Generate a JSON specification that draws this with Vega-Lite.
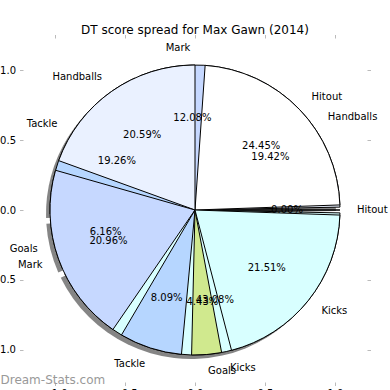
{
  "$schema": "https://vega.github.io/schema/vega-lite/v6.json",
  "width": 344,
  "height": 344,
  "autosize": {"type": "none"},
  "padding": {"left": 23, "top": 38, "right": 23, "bottom": 8},
  "background": "white",
  "title": {"text": "DT score spread for Max Gawn (2014)", "font": "DejaVu Sans", "fontSize": 12, "fontWeight": "normal", "color": "black", "anchor": "middle", "offset": -3},
  "config": {"view": {"stroke": null}, "font": "DejaVu Sans"},
  "datasets": {
    "pie1": [
      {"stat": "Hitout", "share": 0.2445, "i": 0},
      {"stat": "Handballs", "share": 0.2059, "i": 1},
      {"stat": "Mark", "share": 0.2096, "i": 2},
      {"stat": "Tackle", "share": 0.0809, "i": 3},
      {"stat": "Goals", "share": 0.0443, "i": 4},
      {"stat": "Kicks", "share": 0.2151, "i": 5}
    ],
    "pie2": [
      {"stat": "Hitout", "share": 0.0, "i": 0},
      {"stat": "Handballs", "share": 0.1942, "i": 1},
      {"stat": "Mark", "share": 0.1208, "i": 2},
      {"stat": "Tackle", "share": 0.1926, "i": 3},
      {"stat": "Goals", "share": 0.0616, "i": 4},
      {"stat": "Kicks", "share": 0.4308, "i": 5}
    ]
  },
  "layer": [
    {
      "data": {"name": "pie2"},
      "mark": {"type": "arc", "radius": 145, "padAngle": 0.04, "fill": "#333333", "opacity": 0.6, "xOffset": -4, "yOffset": 4},
      "encoding": {
        "theta": {"field": "share", "type": "quantitative", "stack": "normalize", "scale": {"domain": [0, 1], "range": [1.5707963, -4.712389]}},
        "order": {"field": "i"}
      }
    },
    {
      "data": {"name": "pie2"},
      "mark": {"type": "arc", "radius": 145, "padAngle": 0.04, "stroke": "black", "strokeWidth": 1},
      "encoding": {
        "theta": {"field": "share", "type": "quantitative", "stack": "normalize", "scale": {"domain": [0, 1], "range": [1.5707963, -4.712389]}},
        "order": {"field": "i"},
        "color": {"field": "stat", "type": "nominal", "legend": null, "scale": {"domain": ["Hitout", "Handballs", "Mark", "Tackle", "Goals", "Kicks"], "range": ["#ffffff", "#eaf1ff", "#c6d8ff", "#b6d6ff", "#d0e98e", "#d8ffff"]}}
      }
    },
    {
      "data": {"name": "pie1"},
      "mark": {"type": "arc", "radius": 145, "padAngle": 0.07, "stroke": "black", "strokeWidth": 1},
      "encoding": {
        "theta": {"field": "share", "type": "quantitative", "stack": "normalize", "scale": {"domain": [0, 1], "range": [1.5707963, -4.712389]}},
        "order": {"field": "i"},
        "color": {"field": "stat", "type": "nominal", "legend": null, "scale": {"domain": ["Hitout", "Handballs", "Mark", "Tackle", "Goals", "Kicks"], "range": ["#ffffff", "#eaf1ff", "#c6d8ff", "#b6d6ff", "#d0e98e", "#d8ffff"]}}
      }
    },
    {
      "data": {"name": "pie1"},
      "mark": {"type": "text", "radius": 162, "fontSize": 10, "font": "DejaVu Sans", "color": "black", "baseline": "middle", "align": {"expr": "indexof(['Handballs','Mark','Tackle'], datum.stat) >= 0 ? 'right' : 'left'"}},
      "encoding": {
        "theta": {"field": "share", "type": "quantitative", "stack": "normalize", "scale": {"domain": [0, 1], "range": [1.5707963, -4.712389]}},
        "order": {"field": "i"},
        "text": {"field": "stat"}
      }
    },
    {
      "data": {"name": "pie1"},
      "mark": {"type": "text", "radius": 92, "fontSize": 10, "font": "DejaVu Sans", "color": "black", "baseline": "middle", "align": "center"},
      "encoding": {
        "theta": {"field": "share", "type": "quantitative", "stack": "normalize", "scale": {"domain": [0, 1], "range": [1.5707963, -4.712389]}},
        "order": {"field": "i"},
        "text": {"field": "share", "format": ".2%"}
      }
    },
    {
      "data": {"name": "pie2"},
      "mark": {"type": "text", "radius": 162, "fontSize": 10, "font": "DejaVu Sans", "color": "black", "baseline": "middle", "align": {"expr": "indexof(['Mark','Tackle','Goals'], datum.stat) >= 0 ? 'right' : 'left'"}},
      "encoding": {
        "theta": {"field": "share", "type": "quantitative", "stack": "normalize", "scale": {"domain": [0, 1], "range": [1.5707963, -4.712389]}},
        "order": {"field": "i"},
        "text": {"field": "stat"}
      }
    },
    {
      "data": {"name": "pie2"},
      "mark": {"type": "text", "radius": 92, "fontSize": 10, "font": "DejaVu Sans", "color": "black", "baseline": "middle", "align": "center"},
      "encoding": {
        "theta": {"field": "share", "type": "quantitative", "stack": "normalize", "scale": {"domain": [0, 1], "range": [1.5707963, -4.712389]}},
        "order": {"field": "i"},
        "text": {"field": "share", "format": ".2%"}
      }
    },
    {
      "data": {"values": [{"site": "Dream-Stats.com"}]},
      "mark": {"type": "text", "fontSize": 12, "font": "DejaVu Sans", "color": "#999999", "align": "left", "baseline": "middle"},
      "encoding": {
        "x": {"datum": -1.39, "type": "quantitative", "scale": {"domain": [-1.229, 1.229], "nice": false, "zero": false},
              "axis": {"orient": "bottom", "values": [-1, -0.5, 0, 0.5, 1], "format": ".1f", "title": null, "domain": false, "grid": false, "tickColor": "#bbbbbb", "tickSize": 3.5, "labelFontSize": 10, "labelFont": "DejaVu Sans", "labelColor": "black", "labelPadding": 3}},
        "y": {"datum": -1.214, "type": "quantitative", "scale": {"domain": [-1.229, 1.229], "nice": false, "zero": false},
              "axis": {"orient": "left", "values": [-1, -0.5, 0, 0.5, 1], "format": ".1f", "title": null, "domain": false, "grid": false, "tickColor": "#bbbbbb", "tickSize": 3.5, "labelFontSize": 10, "labelFont": "DejaVu Sans", "labelColor": "black", "labelPadding": 4}},
        "text": {"field": "site"}
      }
    },
    {
      "data": {"values": [{"site": "frame"}]},
      "mark": {"type": "point", "opacity": 0},
      "encoding": {
        "x": {"datum": 0, "type": "quantitative", "scale": {"domain": [-1.229, 1.229], "nice": false, "zero": false},
              "axis": {"orient": "top", "values": [-1, -0.5, 0, 0.5, 1], "labels": false, "title": null, "domain": false, "grid": false, "tickColor": "#bbbbbb", "tickSize": 3.5}},
        "y": {"datum": 0, "type": "quantitative", "scale": {"domain": [-1.229, 1.229], "nice": false, "zero": false},
              "axis": {"orient": "right", "values": [-1, -0.5, 0, 0.5, 1], "labels": false, "title": null, "domain": false, "grid": false, "tickColor": "#bbbbbb", "tickSize": 3.5}}
      }
    }
  ],
  "resolve": {"axis": {"x": "independent", "y": "independent"}}
}
